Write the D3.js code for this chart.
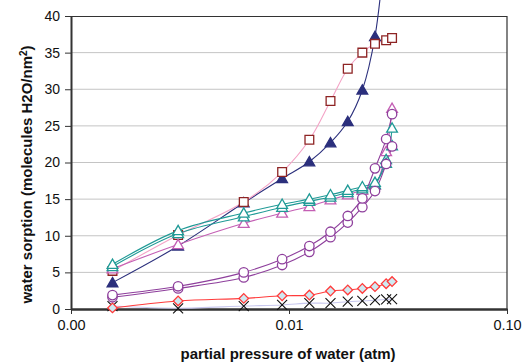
<!DOCTYPE html>
<html>
<head>
<meta charset="utf-8">
<script src="https://cdn.jsdelivr.net/npm/d3@7"></script>
<style>
  body { margin: 0; background: #fff; }
  svg { font-family: "Liberation Sans", Arial, sans-serif; }
</style>
</head>
<body>
<div id="chart"></div>
<script>
var pressures = [0.00155, 0.0031, 0.0062, 0.0093, 0.0124, 0.0155, 0.0186, 0.0217, 0.0248, 0.0279, 0.0297]

var squareVals = [5.2, 10.1, 14.6, 18.7, 23.1, 28.4, 32.8, 35.0, 36.2, 36.7, 37.0]
var navyVals = [3.6, 8.6, 14.5, 17.8, 20.1, 22.7, 25.6, 29.9, 37.2, 51]
var tealAVals = [6.1, 10.7, 13.1, 14.3, 15.0, 15.6, 16.2, 16.7, 17.3, 19.9, 24.7]
var tealBVals = [5.8, 10.3, 12.6, 13.9, 14.7, 15.3, 15.9, 16.4, 17.0, 20.4, 22.3]
var magentaVals = [5.5, 8.8, 11.7, 13.1, 14.0, 14.9, 15.6, 16.2, 16.9, 21.5, 27.4]
var circleAVals = [1.9, 3.1, 5.0, 6.8, 8.6, 10.55, 12.7, 15.1, 19.2, 23.2, 26.6]
var circleBVals = [1.6, 2.8, 4.3, 6.0, 7.8, 9.8, 11.8, 13.9, 16.1, 19.8, 22.2]
var diamondVals = [0.15, 1.1, 1.45, 1.8, 1.9, 2.45, 2.6, 2.8, 3.05, 3.45, 3.75]
var crossVals = [0.4, 0.1, 0.4, 0.55, 0.8, 0.8, 1.0, 1.1, 1.2, 1.3, 1.35]

var yTicks = [0, 5, 10, 15, 20, 25, 30, 35, 40]
var xTicks = [0.001, 0.01, 0.1]
var xTickLabels = ["0.00", "0.01", "0.10"]

// drawing order: first drawn ends up underneath
var series = [
  {vals: crossVals, marker: "cross", line: "#c8c8ee", stroke: "#111", fill: "none"},
  {vals: diamondVals, marker: "diamond", line: "#ff3b3b", stroke: "#ff3b3b", fill: "#cfe9f1"},
  {vals: navyVals, marker: "triangle", line: "#2b2f7c", stroke: "#2b2f7c", fill: "#2b2f7c"},
  {vals: squareVals, marker: "square", line: "#f4a3c6", stroke: "#8e2424", fill: "#fff"},
  {vals: magentaVals, marker: "triangle", line: "#c45fb4", stroke: "#c45fb4", fill: "#fff"},
  {vals: tealBVals, marker: "triangle", line: "#1f9a96", stroke: "#1f9a96", fill: "#fff"},
  {vals: tealAVals, marker: "triangle", line: "#1f9a96", stroke: "#1f9a96", fill: "#fff"},
  {vals: circleBVals, marker: "circle", line: "#8e3f9c", stroke: "#8e3f9c", fill: "#fff"},
  {vals: circleAVals, marker: "circle", line: "#8e3f9c", stroke: "#8e3f9c", fill: "#fff"}
]

var margin = {left: 71, right: 16, top: 16, bottom: 54}
var W = 523, H = 363
var width = W - margin.left - margin.right
var height = H - margin.top - margin.bottom

var svg = d3.select("#chart").append("svg")
  .attr("width", W).attr("height", H)
var g = svg.append("g")
  .attr("transform", "translate(" + margin.left + "," + margin.top + ")")

var x = d3.scaleLog().domain([0.001, 0.1]).range([0, width])
var y = d3.scaleLinear().domain([0, 40]).range([height, 0])

// gridlines
g.selectAll(".grid").data(yTicks.slice(1, -1)).enter().append("line")
  .attr("x1", 0).attr("x2", width)
  .attr("y1", d => y(d)).attr("y2", d => y(d))
  .attr("stroke", "#c4c4c4").attr("stroke-width", 1)

// frame top + right
g.append("path")
  .attr("d", "M0,0.5H" + width + "V" + height)
  .attr("fill", "none").attr("stroke", "#333").attr("stroke-width", 1.2)

var yAxis = g.append("g")
  .call(d3.axisLeft(y).tickValues(yTicks).tickSize(6).tickSizeOuter(0).tickPadding(5))
yAxis.select(".domain").attr("stroke", "#333").attr("stroke-width", 2)
yAxis.selectAll(".tick line").attr("stroke", "#333")
yAxis.selectAll("text").attr("font-size", 14).attr("fill", "#111")

var xAxis = g.append("g").attr("transform", "translate(0," + height + ")")
  .call(d3.axisBottom(x).tickValues(xTicks).tickFormat((d, i) => xTickLabels[i])
    .tickSize(5).tickSizeOuter(0).tickPadding(6))
xAxis.select(".domain").attr("stroke", "#333").attr("stroke-width", 2.4)
xAxis.selectAll(".tick line").attr("stroke", "#333")
xAxis.selectAll("text").attr("font-size", 14.5).attr("fill", "#111")

var line = d3.line()
  .x((d, i) => x(pressures[i]))
  .y(d => y(d))
  .curve(d3.curveCatmullRom.alpha(0.5))

var sym = {
  triangle: d3.symbol().type(d3.symbolTriangle).size(50),
  square: d3.symbol().type(d3.symbolSquare).size(76),
  circle: d3.symbol().type(d3.symbolCircle).size(70),
  diamond: d3.symbol().type(d3.symbolSquare).size(46)
}

series.forEach(function(s){
  g.append("path")
    .attr("d", line(s.vals))
    .attr("fill", "none").attr("stroke", s.line).attr("stroke-width", 1.1)
})

series.forEach(function(s){
  var pts = g.append("g").selectAll("g").data(s.vals).enter().append("g")
    .attr("transform", (d, i) => "translate(" + x(pressures[i]) + "," + y(d) + ")")
  if (s.marker == "cross") {
    pts.append("path").attr("d", "M-5,-5L5,5M-5,5L5,-5")
      .attr("stroke", s.stroke).attr("stroke-width", 1.1).attr("fill", "none")
  } else {
    pts.append("path")
      .attr("d", sym[s.marker]())
      .attr("transform", s.marker == "diamond" ? "rotate(45)" : (s.marker == "triangle" ? "translate(0,1)" : null))
      .attr("fill", s.fill).attr("stroke", s.stroke).attr("stroke-width", 1.3)
  }
})

svg.append("text")
  .attr("x", margin.left + x(0.0099)).attr("y", 359)
  .attr("text-anchor", "middle").attr("font-size", 15).attr("font-weight", "bold")
  .attr("fill", "#111")
  .text("partial pressure of water (atm)")

var yt = svg.append("text")
  .attr("transform", "translate(32," + (margin.top + height / 2 + 12) + ") rotate(-90)")
  .attr("text-anchor", "middle").attr("font-size", 15).attr("font-weight", "bold")
  .attr("fill", "#111")
yt.append("tspan").text("water sorption (molecules H2O/nm")
yt.append("tspan").attr("baseline-shift", "super").attr("font-size", 10).text("2")
yt.append("tspan").text(")")
</script>
</body>
</html>
